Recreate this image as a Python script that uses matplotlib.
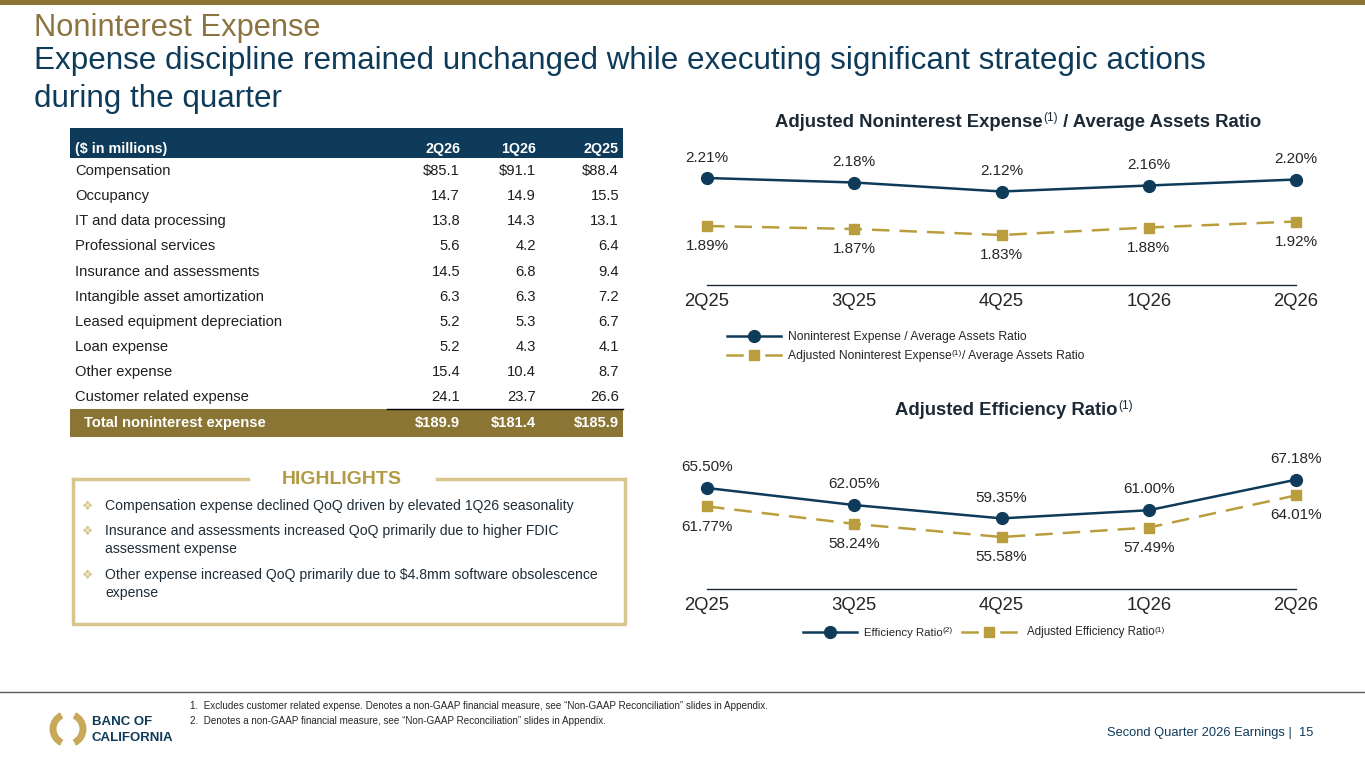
import matplotlib
matplotlib.use("Agg")
import matplotlib.pyplot as plt
from matplotlib.lines import Line2D
from matplotlib.patches import Rectangle, Arc

plt.rcParams['font.family'] = ['Liberation Sans', 'DejaVu Sans']

# ---------------- data ----------------
quarters = ["2Q25", "3Q25", "4Q25", "1Q26", "2Q26"]
nie_ratio = [2.21, 2.18, 2.12, 2.16, 2.20]
adj_nie_ratio = [1.89, 1.87, 1.83, 1.88, 1.92]
eff_ratio = [65.50, 62.05, 59.35, 61.00, 67.18]
adj_eff_ratio = [61.77, 58.24, 55.58, 57.49, 64.01]

table_cols = ["2Q26", "1Q26", "2Q25"]
table_rows = ["Compensation", "Occupancy", "IT and data processing",
              "Professional services", "Insurance and assessments",
              "Intangible asset amortization", "Leased equipment depreciation",
              "Loan expense", "Other expense", "Customer related expense"]
exp_2q26 = [85.1, 14.7, 13.8, 5.6, 14.5, 6.3, 5.2, 5.2, 15.4, 24.1]
exp_1q26 = [91.1, 14.9, 14.3, 4.2, 6.8, 6.3, 5.3, 4.3, 10.4, 23.7]
exp_2q25 = [88.4, 15.5, 13.1, 6.4, 9.4, 7.2, 6.7, 4.1, 8.7, 26.6]
totals = [189.9, 181.4, 185.9]

highlights = [
    ["Compensation expense declined QoQ driven by elevated 1Q26 seasonality"],
    ["Insurance and assessments increased QoQ primarily due to higher FDIC",
     "assessment expense"],
    ["Other expense increased QoQ primarily due to $4.8mm software obsolescence",
     "expense"],
]

NAVY = "#0F3B5A"
GOLD = "#8B7535"
GOLD_T = "#8C7441"
GOLD_L = "#BA9E3E"
BOX = "#D8C68E"
TXT = "#1E1E1E"

W, H = 1365, 768
fig = plt.figure(figsize=(13.65, 7.68), dpi=100)
renderer = fig.canvas.get_renderer()


def fx(x):
    return x / W


def fy(y):
    return 1 - y / H


def T(x, y, s, **kw):
    kw.setdefault("va", "center")
    return fig.text(fx(x), fy(y), s, **kw)


def rich(x, y, parts, ha="left", **kw):
    """parts: list of (text, fontsize, dy_px, weight)"""
    texts, widths = [], []
    for s, fs, dy, wt in parts:
        t = fig.text(0, 0, s, fontsize=fs, fontweight=wt, va="baseline", **kw)
        bb = t.get_window_extent(renderer)
        texts.append((t, dy))
        widths.append(bb.width)
    total = sum(widths)
    x0 = x - total / 2 if ha == "center" else x
    cur = x0
    for (t, dy), w in zip(texts, widths):
        t.set_position((fx(cur), fy(y - dy)))
        cur += w


def rect(x0, y0, x1, y1, **kw):
    fig.add_artist(Rectangle((fx(x0), fy(y1)), fx(x1) - fx(x0), fy(y0) - fy(y1),
                             transform=fig.transFigure, **kw))


def hline(x0, x1, y, **kw):
    fig.add_artist(Line2D([fx(x0), fx(x1)], [fy(y), fy(y)], transform=fig.transFigure, **kw))


# top band
rect(0, 0, W, 5, color=GOLD, lw=0)

# titles
T(34, 28, "Noninterest Expense", fontsize=22.2, color=GOLD_T)
T(34, 61, "Expense discipline remained unchanged while executing significant strategic actions",
  fontsize=22.6, color=NAVY)
T(34, 99, "during the quarter", fontsize=22.6, color=NAVY)

# ---------------- table ----------------
col_x = [460, 536, 619]
rect(70, 128, 623, 158, color=NAVY, lw=0)
T(75, 149, "($ in millions)", fontsize=10.3, color="white", fontweight="bold")
for cx, c in zip(col_x, table_cols):
    T(cx, 149, c, fontsize=10.3, color="white", fontweight="bold", ha="right")

row_y0, row_dy = 171, 25.15
for i, name in enumerate(table_rows):
    y = row_y0 + i * row_dy
    T(75, y, name, fontsize=10.6, color=TXT)
    for cx, vals in zip(col_x, [exp_2q26, exp_1q26, exp_2q25]):
        s = f"${vals[i]:.1f}" if i == 0 else f"{vals[i]:.1f}"
        T(cx, y, s, fontsize=10.6, color=TXT, ha="right")

ty = row_y0 + len(table_rows) * row_dy
rect(70, ty - 14, 623, ty + 14, color=GOLD, lw=0)
hline(387, 623, ty - 14, color="black", lw=1.0)
T(84, ty, "Total noninterest expense", fontsize=10.6, color="white", fontweight="bold")
for cx, v in zip(col_x, totals):
    T(cx, ty, f"${v:.1f}", fontsize=10.6, color="white", fontweight="bold", ha="right")

# ---------------- highlights ----------------
bx0, by0, bx1, by1 = 73, 479, 625, 624
hline(bx0, 248, by0, color=BOX, lw=2.5)
hline(437, bx1, by0, color=BOX, lw=2.5)
fig.add_artist(Line2D([fx(bx0), fx(bx0), fx(bx1), fx(bx1)],
                      [fy(by0), fy(by1), fy(by1), fy(by0)],
                      transform=fig.transFigure, color=BOX, lw=2.5))
T(342, 479, "HIGHLIGHTS", fontsize=14, color="#B19B45", fontweight="bold", ha="center")
hy = [506, 531, 575]
for y0, lines in zip(hy, highlights):
    T(88, y0, "\u2756", fontsize=9, color="#D6C78A", ha="center",
      family=["DejaVu Sans"])
    for k, ln in enumerate(lines):
        T(105, y0 + k * 18, ln, fontsize=10.1, color="#1F2D38")

# ---------------- chart 1 ----------------
ax1 = fig.add_axes([fx(707), fy(285), fx(1296) - fx(707), fy(150) - fy(285)])
ax1.set_xlim(0, 4)
ax1.set_ylim(2.21 - 107 / 150, 2.21 + 28 / 150)
xs = list(range(len(quarters)))
ax1.plot(xs, nie_ratio, color=NAVY, lw=1.8, marker="o", ms=8.5, clip_on=False, zorder=3)
ax1.plot(xs, adj_nie_ratio, color=GOLD_L, lw=1.8, marker="s", ms=7.5,
         dashes=(7, 4), clip_on=False, zorder=3)
for x, v in zip(xs, nie_ratio):
    ax1.annotate(f"{v:.2f}%", (x, v), xytext=(0, 14.5), textcoords="offset points",
                 ha="center", va="center", fontsize=11, color="#262626")
for x, v in zip(xs, adj_nie_ratio):
    ax1.annotate(f"{v:.2f}%", (x, v), xytext=(0, -14.5), textcoords="offset points",
                 ha="center", va="center", fontsize=11, color="#262626")

# ---------------- chart 2 ----------------
ppu = 4.94
ax2 = fig.add_axes([fx(707), fy(589), fx(1296) - fx(707), fy(450) - fy(589)])
ax2.set_xlim(0, 4)
ax2.set_ylim(65.5 - 101 / ppu, 65.5 + 38 / ppu)
ax2.plot(xs, eff_ratio, color=NAVY, lw=1.8, marker="o", ms=8.5, clip_on=False, zorder=3)
ax2.plot(xs, adj_eff_ratio, color=GOLD_L, lw=1.8, marker="s", ms=7.5,
         dashes=(7, 4), clip_on=False, zorder=3)
for x, v in zip(xs, eff_ratio):
    ax2.annotate(f"{v:.2f}%", (x, v), xytext=(0, 15), textcoords="offset points",
                 ha="center", va="center", fontsize=11, color="#262626")
for x, v in zip(xs, adj_eff_ratio):
    ax2.annotate(f"{v:.2f}%", (x, v), xytext=(0, -14.5), textcoords="offset points",
                 ha="center", va="center", fontsize=11, color="#262626")

for ax in (ax1, ax2):
    ax.set_facecolor("none")
    for s in ("top", "left", "right"):
        ax.spines[s].set_visible(False)
    ax.spines["bottom"].set_color("#1B2A36")
    ax.spines["bottom"].set_linewidth(1.0)
    ax.set_yticks([])
    ax.set_xticks(xs)
    ax.set_xticklabels(quarters, fontsize=13.3, color="#262626")
    ax.tick_params(axis="x", length=0, pad=6)

CT = "#1B2A36"
rich(1018, 127, [("Adjusted Noninterest Expense", 13.3, 0, "bold"),
                 ("(1)", 8.5, 6, "normal"),
                 (" / Average Assets Ratio", 13.3, 0, "bold")], ha="center", color=CT)
rich(1014, 415, [("Adjusted Efficiency Ratio", 13.3, 0, "bold"),
                 ("(1)", 8.5, 6, "normal")], ha="center", color=CT)


# legends
def leg_line(x0, x1, y, color, marker, ms, dashed):
    xm = (x0 + x1) / 2
    if dashed:
        for a, b in ((x0, xm - 12), (xm + 12, x1)):
            fig.add_artist(Line2D([fx(a), fx(b)], [fy(y), fy(y)],
                                  transform=fig.transFigure, color=color, lw=1.8))
    else:
        fig.add_artist(Line2D([fx(x0), fx(x1)], [fy(y), fy(y)],
                              transform=fig.transFigure, color=color, lw=1.8))
    fig.add_artist(Line2D([fx(xm)], [fy(y)], transform=fig.transFigure,
                          color=color, marker=marker, ms=ms, lw=0))


LT = "#262626"
leg_line(727, 781, 336, NAVY, "o", 8.5, False)
rich(788, 339.5, [("Noninterest Expense / Average Assets Ratio", 8.7, 0, "normal")], color=LT)
leg_line(727, 781, 355, GOLD_L, "s", 7.5, True)
rich(788, 358.5, [("Adjusted Noninterest Expense", 8.7, 0, "normal"),
                  ("(1)", 6, 4, "normal"),
                  ("/ Average Assets Ratio", 8.7, 0, "normal")], color=LT)

leg_line(803, 857, 632, NAVY, "o", 8.5, False)
rich(864, 635.5, [("Efficiency Ratio", 8.2, 0, "normal"),
                  ("(2)", 6, 4, "normal")], color=LT)
leg_line(962, 1016, 632, GOLD_L, "s", 7.5, True)
rich(1027, 635.5, [("Adjusted Efficiency Ratio", 8.3, 0, "normal"),
                   ("(1)", 6, 4, "normal")], color=LT)

# ---------------- footer ----------------
hline(0, W, 692, color="#5A5A5A", lw=1.0)
T(190, 706, "1.  Excludes customer related expense. Denotes a non-GAAP financial measure, "
  "see \u201cNon-GAAP Reconciliation\u201d slides in Appendix.", fontsize=7.1, color="#262626")
T(190, 721, "2.  Denotes a non-GAAP financial measure, see \u201cNon-GAAP Reconciliation\u201d "
  "slides in Appendix.", fontsize=7.1, color="#262626")
T(1313, 733, "Second Quarter 2026 Earnings |  15", fontsize=9.3, color=NAVY, ha="right")

# logo
ax_logo = fig.add_axes([fx(48), fy(749), fx(88) - fx(48), fy(709) - fy(749)])
ax_logo.set_xlim(-1, 1)
ax_logo.set_ylim(-1, 1)
ax_logo.axis("off")
ax_logo.add_patch(Arc((0, 0), 1.5, 1.5, theta1=115, theta2=245, color="#C8A95A", lw=5))
ax_logo.add_patch(Arc((0, 0), 1.5, 1.5, theta1=-65, theta2=65, color="#C8A95A", lw=5))
T(92, 722, "BANC OF", fontsize=9.5, color=NAVY, fontweight="bold")
T(92, 738, "CALIFORNIA", fontsize=9.5, color=NAVY, fontweight="bold")

fig.savefig("out.png", dpi=100)
